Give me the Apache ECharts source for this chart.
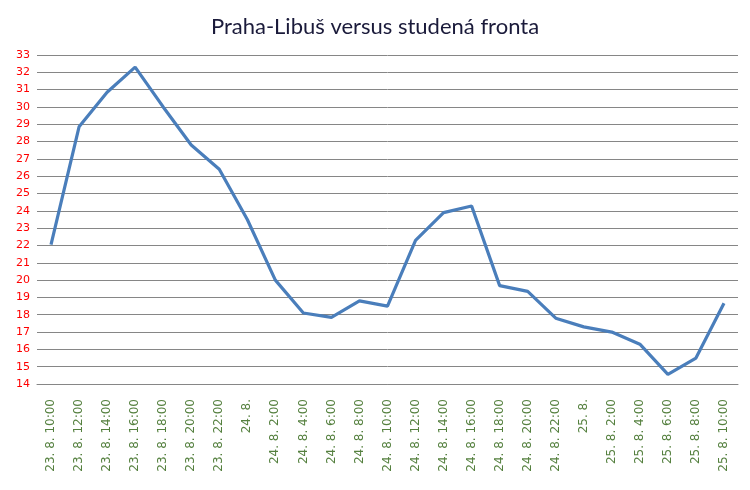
<!DOCTYPE html>
<html><head><meta charset="utf-8">
<script src="https://cdn.jsdelivr.net/npm/echarts@6/dist/echarts.min.js"></script>
<style>html,body{margin:0;padding:0;background:#fff}#c{width:750px;height:490px}</style>
</head><body><div id="c"></div>
<script>
const titleText = 'Praha-Libuš versus studená fronta';
const categories = ['23. 8. 10:00','23. 8. 12:00','23. 8. 14:00','23. 8. 16:00','23. 8. 18:00','23. 8. 20:00','23. 8. 22:00','24. 8.',
  '24. 8. 2:00','24. 8. 4:00','24. 8. 6:00','24. 8. 8:00','24. 8. 10:00','24. 8. 12:00','24. 8. 14:00','24. 8. 16:00','24. 8. 18:00','24. 8. 20:00','24. 8. 22:00','25. 8.',
  '25. 8. 2:00','25. 8. 4:00','25. 8. 6:00','25. 8. 8:00','25. 8. 10:00'];
const temperature = [22.05,28.85,30.85,32.3,30.0,27.8,26.4,23.5,20.0,18.1,17.85,18.8,18.5,22.3,23.9,24.28,19.68,19.35,17.8,17.3,17.0,16.3,14.56,15.5,18.66];
const yMin = 14, yMax = 33, yStep = 1;

const chart = echarts.init(document.getElementById('c'));
chart.setOption({
  animation: false,
  title: { text: titleText, left: 'center', top: 11,
    textStyle: { fontFamily: 'Lato, "Noto Sans", sans-serif', fontWeight: 'normal', fontSize: 22, color: '#1a1a3a' } },
  grid: { left: 37, right: 12, top: 55, bottom: 106 },
  xAxis: { type: 'category', data: categories, boundaryGap: true,
    axisLine: { show: true, lineStyle: { color: '#868686', width: 1 } },
    axisTick: { show: false },
    axisLabel: { rotate: 90, interval: 0, color: '#55803f', fontSize: 12, fontFamily: '"DejaVu Sans", sans-serif', margin: 15 } },
  yAxis: { type: 'value', min: yMin, max: yMax, interval: yStep,
    axisLine: { show: false }, axisTick: { show: false },
    axisLabel: { color: '#ff0000', fontSize: 11, fontFamily: '"DejaVu Sans", sans-serif', margin: 7 },
    splitLine: { lineStyle: { color: '#868686', width: 1 } } },
  series: [{ type: 'line', data: temperature, symbol: 'none',
    lineStyle: { color: '#4a7ebb', width: 3.2 } }]
});
</script></body></html>
